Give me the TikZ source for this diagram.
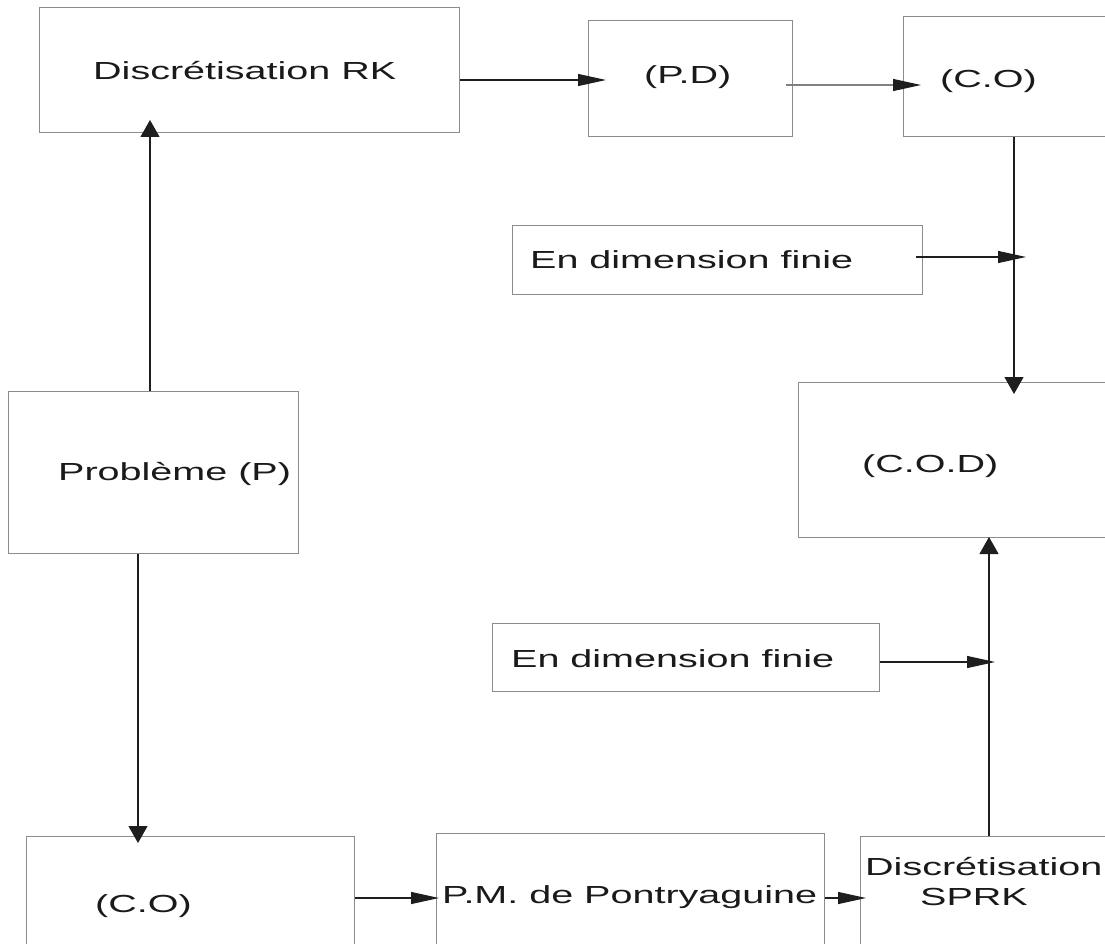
\documentclass[tikz,border=0pt]{standalone}
\usepackage{fontspec}
\newfontfamily\diagfont{Liberation Sans}[FakeStretch=1.6]
\usetikzlibrary{arrows.meta}
\definecolor{boxgray}{HTML}{8C8C8C}
\definecolor{txtcol}{HTML}{1A1A1A}
\definecolor{linecol}{HTML}{1E1E1E}
\begin{document}
\begin{tikzpicture}[x=1pt,y=-1pt,
  box/.style={draw=boxgray, line width=1.2pt, inner sep=0pt, anchor=north west},
  txt/.style={font=\diagfont\fontsize{24.7}{30}\selectfont, text=txtcol, inner sep=0pt, anchor=base west},
  conn/.style={draw=linecol, line width=1.1pt},
  harr/.style={conn, -{Triangle[length=28pt,width=12pt,color=linecol]}},
  varr/.style={conn, -{Triangle[length=17pt,width=19pt,color=linecol]}}]
\clip (0,0) rectangle (1105,944);
\fill[white] (0,0) rectangle (1105,944);
% boxes
\node[box, minimum width=420pt, minimum height=125pt] (rk) at (39,7) {};
\node[box, minimum width=204pt, minimum height=116pt] (pd) at (588,20) {};
\node[box, minimum width=230pt, minimum height=120pt] (co1) at (903,16) {};
\node[box, minimum width=410pt, minimum height=69pt] (ed1) at (512,225) {};
\node[box, minimum width=330pt, minimum height=155pt] (cod) at (798,382) {};
\node[box, minimum width=290pt, minimum height=162pt] (prob) at (8,391) {};
\node[box, minimum width=387pt, minimum height=68pt] (ed2) at (492,623) {};
\node[box, minimum width=328pt, minimum height=130pt] (co2) at (26,836) {};
\node[box, minimum width=388pt, minimum height=130pt] (pm) at (436,833) {};
\node[box, minimum width=260pt, minimum height=130pt] (sprk) at (860,836) {};
% texts
\node[txt] (trk) at (93,80) {Discrétisation RK};
\node[txt] (tpd) at (644,84) {(P.D)};
\node[txt] (tco1) at (940,88) {(C.O)};
\node[txt] (ted1) at (530,268) {En dimension finie};
\node[txt] (tcod) at (862,472) {(C.O.D)};
\node[txt] (tprob) at (58,480) {Problème (P)};
\node[txt] (ted2) at (511,667) {En dimension finie};
\node[txt] (tco2) at (95,912) {(C.O)};
\node[txt] (tpm) at (442,903) {P.M. de Pontryaguine};
\node[txt] (tsprka) at (865,875) {Discrétisation};
\node[txt] (tsprkb) at (920,905) {SPRK};
% connector end points
\coordinate (rkin) at (150,120);
\coordinate (pdin) at (606,80);
\coordinate (pdout) at (786,85);
\coordinate (coin) at (921,85);
\coordinate (codin) at (1014,394);
\coordinate (ed1tip) at (1026,257);
\coordinate (co2in) at (138,843);
\coordinate (pmin) at (439,898);
\coordinate (sprkin) at (866,898);
\coordinate (codbot) at (989,537);
\coordinate (ed2tip) at (995,662);
\coordinate (ed1out) at (916,257);
% connectors
\draw[varr] (prob.north -| rkin) -- (rkin);
\draw[harr] (rk.east |- pdin) -- (pdin);
\draw[harr, draw=gray] (pdout) -- (coin);
\draw[varr] (co1.south -| codin) -- (codin);
\draw[harr] (ed1out) -- (ed1tip);
\draw[varr] (prob.south -| co2in) -- (co2in);
\draw[harr] (co2.east |- pmin) -- (pmin);
\draw[harr] (pm.east |- sprkin) -- (sprkin);
\draw[varr] (sprk.north -| codbot) -- (codbot);
\draw[harr] (ed2.east |- ed2tip) -- (ed2tip);
\end{tikzpicture}
\end{document}
